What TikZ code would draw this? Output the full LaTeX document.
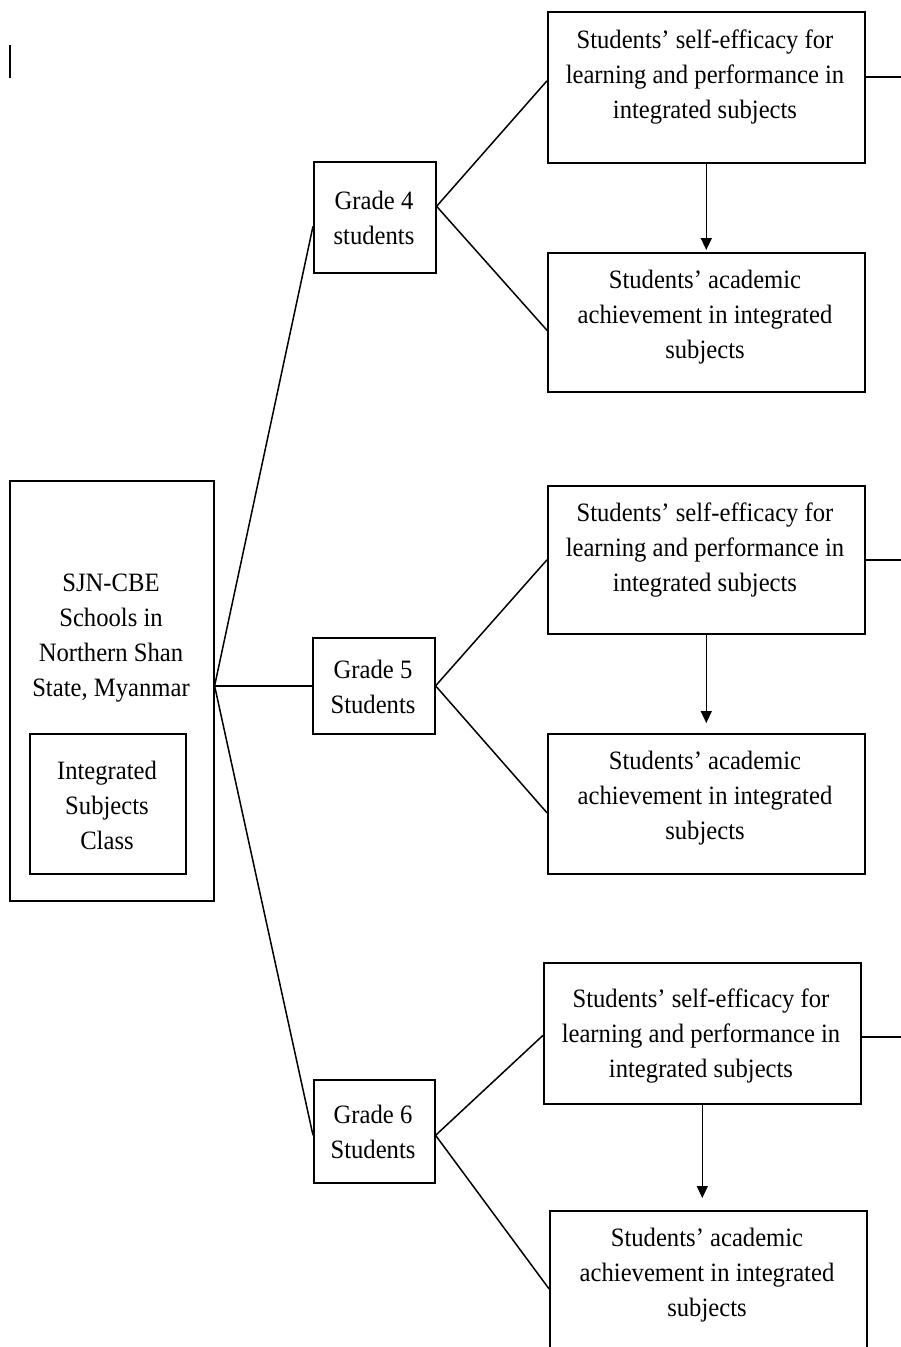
\documentclass[tikz,border=0pt]{standalone}
\usepackage{fontspec}
\setmainfont[FakeStretch=0.93]{Liberation Serif}
\usetikzlibrary{arrows.meta,calc}
\begin{document}
\begin{tikzpicture}[x=1pt,y=-1pt,
  box/.style={draw,line width=1.6pt,inner sep=0pt,anchor=north west},
  txt/.style={align=center,font=\fontsize{26.5}{35}\selectfont,inner sep=0pt},
  conn/.style={line width=1.5pt},
  arr/.style={line width=1.5pt,-{Triangle[length=12pt,width=11pt]}}]
\clip (0,0) rectangle (901,1347);
\fill[white] (0,0) rectangle (901,1347);
% stray mark
\draw[line width=1.5pt] (10,45) -- (10,78);
% left box
\node[box,minimum width=204pt,minimum height=420pt] (sjn) at (9,480) {};
\node[txt] (sjnt) at (111,638) {SJN-CBE\\Schools in\\Northern Shan\\State, Myanmar};
\node[box,minimum width=156pt,minimum height=140pt] (isc) at (29,733) {};
\node[txt] (isct) at (107,805) {Integrated\\Subjects\\Class};
% grade boxes
\node[box,minimum width=122pt,minimum height=111pt] (g4) at (313,161) {};
\node[txt] (g4t) at (374,218) {Grade 4\\students};
\node[box,minimum width=122pt,minimum height=96pt] (g5) at (312,637) {};
\node[txt] (g5t) at (373,687) {Grade 5\\Students};
\node[box,minimum width=121pt,minimum height=103pt] (g6) at (313,1079) {};
\node[txt] (g6t) at (373,1132) {Grade 6\\Students};
% right boxes
\node[box,minimum width=317pt,minimum height=151pt] (b1) at (547,11) {};
\node[txt] (b1t) at (705,77) {Students' self-efficacy for\\learning and performance in\\integrated subjects};
\node[box,minimum width=317pt,minimum height=139pt] (b2) at (547,252) {};
\node[txt] (b2t) at (705,317) {Students' academic\\achievement in integrated\\subjects};
\node[box,minimum width=317pt,minimum height=148pt] (b3) at (547,485) {};
\node[txt] (b3t) at (705,550) {Students' self-efficacy for\\learning and performance in\\integrated subjects};
\node[box,minimum width=317pt,minimum height=140pt] (b4) at (547,733) {};
\node[txt] (b4t) at (705,798) {Students' academic\\achievement in integrated\\subjects};
\node[box,minimum width=317pt,minimum height=141pt] (b5) at (543,962) {};
\node[txt] (b5t) at (701,1036) {Students' self-efficacy for\\learning and performance in\\integrated subjects};
\node[box,minimum width=317pt,minimum height=170pt] (b6) at (549,1210) {};
\node[txt] (b6t) at (707,1275) {Students' academic\\achievement in integrated\\subjects};
% fan from left box
\coordinate (apex) at (sjn.east |- g5.west);
\draw[conn] (apex) -- ([yshift=-9pt]g4.west);
\draw[conn] (apex) -- (g5.west);
\draw[conn] (apex) -- ([yshift=-4pt]g6.west);
% fans from grade boxes
\draw[conn] ([yshift=6.5pt]b1.west) -- ([yshift=11pt]g4.east) -- ([yshift=-8pt]b2.west);
\draw[conn] (b3.west) -- (g5.east) -- ([yshift=-9pt]b4.west);
\draw[conn] ([yshift=-2pt]b5.west) -- ([yshift=-4pt]g6.east) -- ([yshift=7pt]b6.west);
% arrows
\draw[arr,shorten >=2pt] (b1.south) -- (b2.north);
\draw[arr,shorten >=10pt] (b3.south) -- (b4.north);
\draw[arr,shorten >=12pt] (b5.south) -- (b5.south |- b6.north);
% free lines to the right
\coordinate (r1) at (901,77);
\coordinate (r3) at (901,560);
\coordinate (r5) at (901,1037);
\draw[conn] (b1.east |- r1) -- (r1);
\draw[conn] (b3.east |- r3) -- (r3);
\draw[conn] (b5.east |- r5) -- (r5);
\end{tikzpicture}
\end{document}
